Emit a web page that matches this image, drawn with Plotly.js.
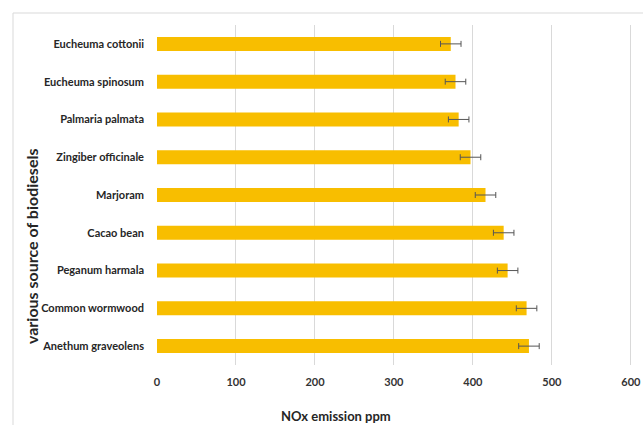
<!DOCTYPE html>
<html>
<head>
<meta charset="utf-8">
<script src="https://cdn.plot.ly/plotly-3.0.1.min.js"></script>
<style>
  html, body { margin: 0; padding: 0; background: #fff; }
  #chart { width: 643px; height: 425px; }
</style>
</head>
<body>
<div id="chart"></div>
<script>
// Biodiesel sources, listed top to bottom
const sources = [
  'Eucheuma cottonii',
  'Eucheuma spinosum',
  'Palmaria palmata',
  'Zingiber officinale',
  'Marjoram',
  'Cacao bean',
  'Peganum harmala',
  'Common wormwood',
  'Anethum graveolens'
];
// Mean NOx emission (ppm) and its error
const noxPpm = [372, 378, 382, 397, 416, 439, 444, 468, 471];
const noxErr = [13, 13, 13, 13, 13, 13, 13, 13, 13];
const xTicks = [0, 100, 200, 300, 400, 500, 600];

const W = 643, H = 425;
const M = { l: 157, r: 11, t: 25, b: 60 };
const pw = W - M.l - M.r, ph = H - M.t - M.b;
// convert page pixels to paper coordinates
const px = x => (x - M.l) / pw;
const py = y => 1 - (y - M.t) / ph;

const font = "Lato, 'Open Sans', sans-serif";

const trace = {
  type: 'bar',
  orientation: 'h',
  y: sources,
  x: noxPpm,
  marker: { color: '#F8BE00', line: { width: 0 } },
  error_x: {
    type: 'data',
    array: noxErr,
    visible: true,
    color: '#555555',
    thickness: 1,
    width: 3
  },
  hoverinfo: 'x+y'
};

const layout = {
  width: W,
  height: H,
  margin: M,
  paper_bgcolor: '#ffffff',
  plot_bgcolor: '#ffffff',
  showlegend: false,
  bargap: 0.63,
  xaxis: {
    range: [0, 601.5],
    tickvals: xTicks,
    ticktext: xTicks.map(String),
    showgrid: true,
    gridcolor: '#D9D9D9',
    gridwidth: 1,
    zeroline: false,
    showline: false,
    ticks: '',
    ticklabelstandoff: 9,
    tickfont: { family: font, size: 11, color: '#333333', weight: 'bold' },
    fixedrange: true
  },
  yaxis: {
    type: 'category',
    autorange: 'reversed',
    showgrid: false,
    zeroline: false,
    showline: false,
    ticks: '',
    ticklabelstandoff: 12,
    tickfont: { family: font, size: 11, color: '#262626', weight: 'bold' },
    fixedrange: true
  },
  shapes: [
    {
      type: 'rect', xref: 'paper', yref: 'paper',
      x0: px(13), x1: px(700), y0: py(13), y1: py(480),
      line: { color: '#D9D9D9', width: 1 },
      fillcolor: 'rgba(0,0,0,0)',
      layer: 'below'
    }
  ],
  annotations: [
    {
      text: 'NOx emission ppm',
      xref: 'paper', yref: 'paper',
      x: px(336), y: py(415.5),
      xanchor: 'center', yanchor: 'middle',
      showarrow: false,
      font: { family: font, size: 13, color: '#262626', weight: 'bold' }
    },
    {
      text: 'various source of biodiesels',
      xref: 'paper', yref: 'paper',
      x: px(31), y: py(246),
      xanchor: 'center', yanchor: 'middle',
      textangle: -90,
      showarrow: false,
      font: { family: font, size: 16, color: '#262626', weight: 'bold' }
    }
  ]
};

Plotly.newPlot('chart', [trace], layout, { displayModeBar: false, staticPlot: true });
</script>
</body>
</html>
